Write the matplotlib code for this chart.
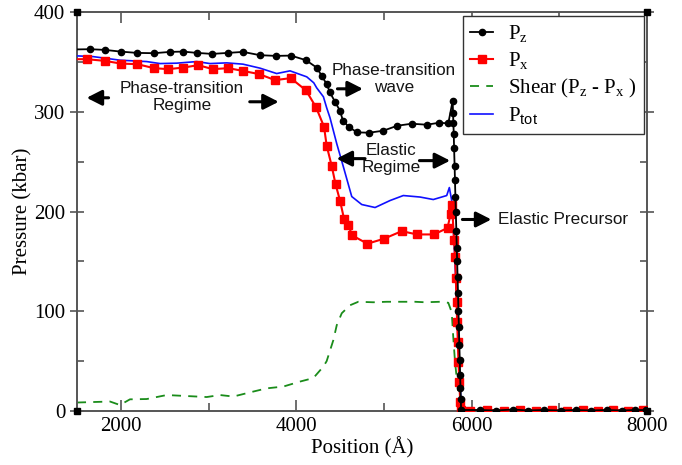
import matplotlib
matplotlib.use("Agg")
import matplotlib.pyplot as plt
from matplotlib.ticker import MultipleLocator

plt.rcParams['font.family'] = ['Liberation Serif', 'DejaVu Serif']
plt.rcParams['mathtext.fontset'] = 'custom'
plt.rcParams['mathtext.rm'] = 'Liberation Serif'
plt.rcParams['mathtext.sf'] = 'Liberation Sans'

# ---- data (Position in Angstrom, Pressure in kbar) ----
pz_x = [1500, 1648, 1819, 1998, 2184, 2378, 2561, 2709, 2868, 3040, 3222, 3393, 3587,
        3769, 3940, 4111, 4233, 4291, 4347, 4385, 4442, 4499, 4533, 4605, 4697, 4833,
        4993, 5153, 5317, 5488, 5632, 5734, 5784,
        5788, 5792, 5796, 5800, 5806, 5810, 5815, 5820, 5826, 5831, 5835, 5840, 5845,
        5850, 5855, 5860, 5865, 5869, 5873, 5877, 5880,
        6090, 6275, 6470, 6645, 6820, 7020, 7190, 7360, 7540, 7710, 7860, 7990]
pz_y = [362.5, 362.7, 362, 360.3, 359, 358.7, 360, 360.3, 359, 358, 359, 360, 356.7,
        356, 356.3, 351.7, 344.3, 336, 327.7, 319.3, 310, 301, 291, 284.3, 279.3, 279,
        281, 286, 288, 287, 289, 288.3, 311,
        299, 289, 278, 264, 246, 232, 215, 199, 180, 163, 150, 134, 118,
        100, 84, 66, 51, 36, 23, 12, 1,
        1, 0.5, 1.5, 0.5, 1, 0.5, 1, 0.5, 1, 0.5, 1, 1]

px_x = [1500, 1611, 1819, 1998, 2188, 2378, 2541, 2712, 2883, 3048, 3225, 3390, 3579,
        3758, 3937, 4111, 4226, 4317, 4347, 4405, 4448, 4499, 4545, 4594, 4639, 4811,
        5001, 5203, 5377, 5571, 5725, 5761, 5776,
        5800, 5812, 5820, 5828, 5835, 5843, 5850, 5860, 5870, 5880,
        5977, 6176, 6370, 6552, 6730, 6917, 7088, 7266, 7439, 7613, 7784, 7960]
px_y = [352.7, 352.7, 351, 348.3, 347.7, 343.7, 342.7, 344.3, 346.7, 342.7, 343.7, 341, 337.7,
        331.7, 333.7, 321.5, 304.5, 285, 266, 245.5, 227.5, 211, 192.7, 186, 176, 167.7,
        172.7, 180.3, 177, 177, 183.5, 197.7, 207,
        171, 154, 133, 109, 89, 69, 49, 29, 9, 1,
        0.5, 1, 0.5, 1, 0.5, 1, 0.5, 1, 0.5, 1, 0.5, 1]

shear_x = [1500, 1876, 1990, 2104, 2295, 2523, 2751, 2979, 3131, 3283, 3511, 3663, 3853,
           4043, 4195, 4309, 4347, 4423, 4462, 4519, 4613, 4708, 4879, 5032, 5184, 5355,
           5469, 5640, 5734, 5773, 5790, 5810, 5840, 5870, 5885, 8000]
shear_y = [8.5, 9.5, 6, 11.7, 12, 16, 15, 14, 16, 14.5, 19.5, 22.7, 24.5,
           29.5, 33, 44.5, 50, 71, 86, 98, 106, 109.5, 109, 109.5, 109.5, 109.5,
           109, 109.5, 108.5, 99, 75, 50, 25, 5, 0, 0]

ptot_x = [1500, 1682, 1990, 2295, 2447, 2637, 2865, 3017, 3207, 3393, 3587, 3777, 3929,
          4120, 4200, 4233, 4310, 4347, 4385, 4462, 4537, 4633, 4747, 4899, 5070, 5221,
          5412, 5563, 5716, 5746, 5773, 5800, 5830, 5860, 5885, 8000]
ptot_y = [356, 355.3, 351.7, 350.3, 348.3, 348.7, 350.3, 348.3, 349, 347.7, 343.7, 338.3, 341,
          335, 329, 324, 315, 304, 294, 268, 245, 215, 207, 204, 211, 216,
          214.5, 212, 216, 224, 211, 170, 110, 40, 0, 0]

x_ticks = [2000, 4000, 6000, 8000]
y_ticks = [0, 100, 200, 300, 400]

fig = plt.figure(figsize=(6.82, 4.65), dpi=100)
ax = fig.add_axes([77/682, 1 - 411/465, 570/682, 399/465])

ax.plot(shear_x, shear_y, color='#1a8c1a', lw=1.3, ls=(0, (5, 4)),
        label=r'Shear (P$_\mathrm{z}$ - P$_\mathrm{x}$ )', zorder=2)
ax.plot(ptot_x, ptot_y, color='#1010ff', lw=1.2, label=r'P$_\mathsf{tot}$', zorder=3)
ax.plot(px_x, px_y, color='#ff0000', lw=1.5, marker='s', ms=5.5, mec='#ff0000',
        markevery=list(range(1, len(px_x))), label=r'P$_\mathrm{x}$', zorder=4)
ax.plot(pz_x, pz_y, color='black', lw=1.3, marker='o', ms=4.5,
        markevery=list(range(1, len(pz_x))), label=r'P$_\mathrm{z}$', zorder=5)

ax.set_xlim(1500, 8000)
ax.set_ylim(0, 400)
ax.set_xticks(x_ticks)
ax.set_yticks(y_ticks)
ax.xaxis.set_minor_locator(MultipleLocator(1000))
ax.yaxis.set_minor_locator(MultipleLocator(50))

spine_c = '#555555'
for s in ax.spines.values():
    s.set_color(spine_c)
    s.set_linewidth(1.4)
ax.tick_params(axis='both', which='both', colors=spine_c, labelcolor='black',
               labelsize=15, width=1.2)
ax.tick_params(axis='x', which='major', direction='in', length=8, top=True, pad=4)
ax.tick_params(axis='x', which='minor', direction='in', length=6, top=True)
ax.tick_params(axis='y', which='major', direction='inout', length=10, right=True)
ax.tick_params(axis='y', which='minor', direction='in', length=5, right=True)

ax.set_xlabel('Position (Å)', fontsize=15, labelpad=1)
ax.set_ylabel('Pressure (kbar)', fontsize=15, labelpad=1)

# corner squares (xmgrace style)
ax.plot([0, 1, 0, 1], [0, 0, 1, 1], ls='none', marker='s', ms=5, color='black',
        transform=ax.transAxes, clip_on=False, zorder=10)

handles, labels = ax.get_legend_handles_labels()
order = [3, 2, 0, 1]
leg = ax.legend([handles[i] for i in order], [labels[i] for i in order],
                loc='upper right', bbox_to_anchor=(0.995, 0.99), borderaxespad=0,
                fontsize=15, frameon=True, fancybox=False, edgecolor='#333333',
                framealpha=1, handlelength=1.1, borderpad=0.35, labelspacing=0.25,
                handletextpad=0.7)
leg.get_frame().set_linewidth(1.0)

# annotations
tfont = dict(family=['Liberation Sans', 'DejaVu Sans'], fontsize=12.3, color='#151515',
             ha='center', va='center', linespacing=1.15)
arr = dict(arrowstyle='-|>,head_length=0.65,head_width=0.33', lw=2.2, color='black',
           shrinkA=0, shrinkB=0, mutation_scale=14)

ax.text(2697, 315, 'Phase-transition\nRegime', **tfont)
ax.annotate('', xy=(1610, 314), xytext=(1860, 314), arrowprops=arr)
ax.annotate('', xy=(3800, 310), xytext=(3470, 310), arrowprops=arr)

ax.text(5115, 333, 'Phase-transition\nwave', **tfont)
ax.annotate('', xy=(4760, 323), xytext=(4470, 323), arrowprops=arr)

ax.text(5081, 253, 'Elastic\nRegime', **tfont)
ax.annotate('', xy=(4460, 253), xytext=(4785, 253), arrowprops=arr)
ax.annotate('', xy=(5755, 251), xytext=(5405, 251), arrowprops=arr)

ax.text(6301, 192, 'Elastic Precursor', family=['Liberation Sans', 'DejaVu Sans'],
        fontsize=12.3, color='#151515', ha='left', va='center')
ax.annotate('', xy=(6225, 192), xytext=(5895, 192), arrowprops=arr)

fig.savefig('out.png', dpi=100)
